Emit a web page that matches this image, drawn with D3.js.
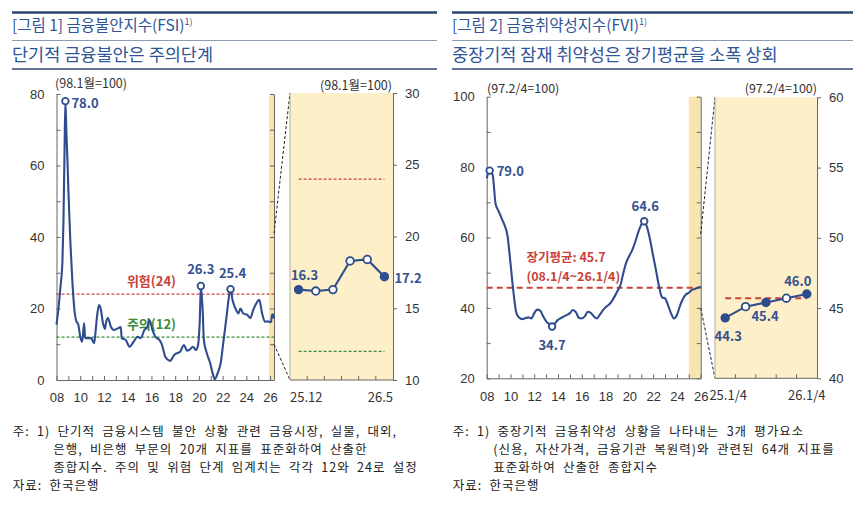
<!DOCTYPE html>
<html>
<head>
<meta charset="utf-8">
<script src="https://cdn.jsdelivr.net/npm/d3@7"></script>
<style>
  body { margin: 0; background: #fff; }
  svg { display: block; font-family: "Noto Sans CJK KR", "Noto Sans", sans-serif; }
  .axis text { font-size: 13px; fill: #333; }
  .axis path, .axis line { stroke: #666; stroke-width: 1; }
  .note { font-size: 12.5px; fill: #222; word-spacing: 3.5px; letter-spacing: 1px; }
  .val { font-size: 13px; font-weight: 700; fill: #34508f; }
  .unit { font-size: 12.5px; fill: #333; }
</style>
</head>
<body>
<div id="chart"></div>
<script>
// ---- FSI (monthly, 98.1 = 100) ----
const fsiMonths = [
  "2008-01","2008-03","2008-05","2008-07","2008-08","2008-09","2008-10","2008-11","2008-12",
  "2009-01","2009-03","2009-05","2009-07","2009-09","2009-11",
  "2010-01","2010-03","2010-05","2010-06","2010-09","2010-12",
  "2011-03","2011-04","2011-06","2011-08","2011-10","2011-12",
  "2012-02","2012-03","2012-05","2012-08","2012-11",
  "2013-02","2013-06","2013-07","2013-11",
  "2014-03","2014-07","2014-11",
  "2015-02","2015-06","2015-09","2015-11",
  "2016-02","2016-05","2016-09","2016-11",
  "2017-01","2017-03","2017-08","2017-12",
  "2018-03","2018-06","2018-10",
  "2019-01","2019-04","2019-07","2019-10","2019-12",
  "2020-02","2020-03","2020-05","2020-06","2020-09","2020-12",
  "2021-04","2021-05","2021-08","2021-11",
  "2022-02","2022-05","2022-07","2022-09","2022-11",
  "2023-02","2023-05","2023-07","2023-10",
  "2024-02","2024-05","2024-08","2024-11",
  "2025-02","2025-05","2025-08","2025-10","2025-12",
  "2026-01","2026-02","2026-03","2026-04","2026-05"
];
const fsiValues = [
  15.5, 20, 26, 33, 44, 62, 78.0, 69, 62,
  53, 39, 28, 20, 16.5, 15.5,
  12.1, 10.7, 15.9, 11.7, 11.7, 11.7,
  10.3, 12.1, 17.7, 21, 19.6, 15.9,
  14.3, 15.9, 17.3, 14.9, 14,
  14.3, 14.8, 11.7, 11.2,
  9.3, 10.7, 12.1,
  11.7, 14, 14.9, 16.8,
  14, 12.1, 11.2, 10.3,
  8.5, 6.5, 5.4, 7,
  7.5, 7.9, 9.8,
  8.2, 8.6, 9.3, 8.4, 9.5,
  17.7, 26.3, 18.6, 11.2, 7.5, 5.1,
  0.9, 0.2, 1.9, 4.7,
  11.2, 17.7, 22.4, 25.4, 22.4,
  20, 18.6, 20, 18.6,
  18.2, 17.3, 19.6, 21.4,
  22.4, 18.6, 16.3, 16.4, 16.3,
  16.2, 16.3, 18.3, 18.4, 17.2
];
const fsiPeakMonths = ["2008-10", "2020-03", "2022-09"];
const fsiZoomMonths = ["2025-12", "2026-01", "2026-02", "2026-03", "2026-04", "2026-05"];
const fsiZoomTicks = ["25.12", "26.5"];
const fsiLevels = [24, 12];
const fsiLevelNames = ["위험(24)", "주의(12)"];

// ---- FVI (quarterly, 97.2/4 = 100) ----
const fviQuarters = [
  "08.1","08.2","08.3","08.4","09.1","09.2","09.3","09.4",
  "10.1","10.2","10.3","10.4","11.1","11.2","11.3","11.4",
  "12.1","12.2","12.3","12.4","13.1","13.2","13.3","13.4",
  "14.1","14.2","14.3","14.4","15.1","15.2","15.3","15.4",
  "16.1","16.2","16.3","16.4","17.1","17.2","17.3","17.4",
  "18.1","18.2","18.3","18.4","19.1","19.2","19.3","19.4",
  "20.1","20.2","20.3","20.4","21.1","21.2","21.3","21.4",
  "22.1","22.2","22.3","22.4","23.1","23.2","23.3","23.4",
  "24.1","24.2","24.3","24.4","25.1","25.2","25.3","25.4","26.1"
];
const fviValues = [
  76.8, 79.0, 77.8, 69.5, 67.5, 65.5, 63.5, 60.5,
  52.7, 44.5, 38.5, 37.2, 36.8, 37.1, 37.3, 37.0,
  38.5, 39.5, 39.2, 37.6, 36.2, 35.4, 34.7, 35.6,
  36.6, 37.1, 37.6, 38.0, 38.5, 39.4, 38.8, 37.2,
  37.0, 37.6, 38.9, 38.6, 37.6, 37.0, 38.0, 39.2,
  40.2, 40.8, 41.8, 43.2, 44.8, 46.5, 50.0, 53.0,
  54.8, 56.5, 58.8, 61.5, 63.6, 64.6, 62.8, 59.2,
  54.8, 50.5, 46.0, 43.0, 42.7, 40.8, 38.5, 37.0,
  38.0, 40.5, 42.5, 43.8, 44.3, 45.1, 45.4, 45.7, 46.0
];
const fviPeakQuarters = ["08.2", "21.2", "13.3"];
const fviZoomQuarters = ["25.1", "25.2", "25.3", "25.4", "26.1"];
const fviZoomTicks = ["25.1/4", "26.1/4"];
const fviLabeledZoom = ["25.1", "25.3", "26.1"];
const fviMean = 45.7;

const W = 860, H = 509;
const blue = "#2f4c8c", red = "#c8423a", green = "#3a8c3a", tan = "#fdf0c9", strip = "#f9e4ae";

const svg = d3.select("#chart").append("svg").attr("width", W).attr("height", H);
svg.append("rect").attr("width", W).attr("height", H).attr("fill", "#fff");

const parseMonth = d3.timeParse("%Y-%m");
const fsi = fsiMonths.map((m, i) => ({ date: parseMonth(m), key: m, value: fsiValues[i] }));
const fsiByKey = new Map(fsi.map(d => [d.key, d]));
const quarterYear = q => 2000 + (+q.split(".")[0]) + (+q.split(".")[1] - 1) / 4;
const fvi = fviQuarters.map((q, i) => ({ t: quarterYear(q), key: q, value: fviValues[i] }));
const fviByKey = new Map(fvi.map(d => [d.key, d]));

// ---------- titles ----------
function header(x0, x1, num, name, tag, sub) {
  svg.append("line").attr("x1", x0).attr("x2", x1).attr("y1", 12.5).attr("y2", 12.5)
    .attr("stroke", "#2b4470").attr("stroke-width", 2.6);
  const t = svg.append("text").attr("x", x0).attr("y", 31)
    .attr("fill", "#2f5597").attr("font-size", 15.5);
  t.append("tspan").text("[그림 " + num + "] " + name + "(" + tag + ")");
  t.append("tspan").attr("font-size", 9).attr("dy", -6).text("1)");
  svg.append("line").attr("x1", x0).attr("x2", x1).attr("y1", 40.5).attr("y2", 40.5)
    .attr("stroke", "#8d9bb3").attr("stroke-width", 1);
  svg.append("text").attr("x", x0).attr("y", 60.5).attr("fill", "#2f5597")
    .attr("font-size", 17.5).text(sub);
  svg.append("line").attr("x1", x0).attr("x2", x1).attr("y1", 69).attr("y2", 69)
    .attr("stroke", "#2b4470").attr("stroke-width", 1.5);
}
header(12, 437, 1, "금융불안지수", "FSI", "단기적 금융불안은 주의단계");
header(452, 853, 2, "금융취약성지수", "FVI", "중장기적 잠재 취약성은 장기평균을 소폭 상회");

// ---------- helpers ----------
function yearAxis(g, scale, years, bottom, fmt) {
  g.append("g").attr("class", "axis").attr("transform", "translate(0," + bottom + ")")
    .call(d3.axisBottom(scale).tickValues(years).tickSize(-4).tickSizeOuter(0)
      .tickPadding(13).tickFormat(fmt));
}
function frameAxes(g, x0, x1, y, step, labelStep) {
  const dom = y.domain();
  const ticks = d3.range(dom[0], dom[1] + 0.01, step);
  g.append("g").attr("class", "axis").attr("transform", "translate(" + x0 + ",0)")
    .call(d3.axisLeft(y).tickValues(ticks).tickSize(-4).tickSizeOuter(0).tickPadding(12)
      .tickFormat(d => d % labelStep === 0 ? d : ""));
  g.append("g").attr("class", "axis").attr("transform", "translate(" + x1 + ",0)")
    .call(d3.axisLeft(y).tickValues(ticks).tickSize(4).tickSizeOuter(0).tickFormat(""));
}
function zoomBox(g, xb, y, step, top, bottom, tickLabels, anchorEdges) {
  const [x0, x1] = xb.range();
  g.append("rect").attr("x", x0).attr("y", top).attr("width", x1 - x0).attr("height", bottom - top)
    .attr("fill", tan);
  g.append("line").attr("x1", x0).attr("x2", x0).attr("y1", top).attr("y2", bottom)
    .attr("stroke", "#999").attr("stroke-width", 0.8);
  const dom = y.domain();
  g.append("g").attr("class", "axis").attr("transform", "translate(" + x1 + ",0)")
    .call(d3.axisRight(y).tickValues(d3.range(dom[0], dom[1] + 0.01, step))
      .tickSize(4).tickSizeOuter(0).tickPadding(8));
  const ax = g.append("g").attr("class", "axis");
  ax.append("line").attr("x1", x0).attr("x2", x1).attr("y1", bottom).attr("y2", bottom);
  xb.domain().slice(1).forEach(k => {
    ax.append("line").attr("x1", xb(k)).attr("x2", xb(k)).attr("y1", bottom).attr("y2", bottom - 4);
  });
  const ends = [xb.domain()[0], xb.domain()[xb.domain().length - 1]];
  tickLabels.forEach((lab, i) => {
    const k = ends[i];
    let x = xb(k) + xb.bandwidth() / 2, anchor = "middle";
    if (anchorEdges) { x = i === 0 ? x0 : x1; anchor = i === 0 ? "start" : "end"; }
    else if (i === 0) { x += 3; }
    ax.append("text").attr("x", x).attr("y", bottom + 22).attr("text-anchor", anchor).text(lab);
  });
}
function connectors(g, mx, my, v0, v1, ix, iTop, iBot) {
  [[my(v0), iTop], [my(v1), iBot]].forEach(p => {
    g.append("line").attr("x1", mx).attr("y1", p[0]).attr("x2", ix).attr("y2", p[1])
      .attr("stroke", "#222").attr("stroke-width", 1).attr("stroke-dasharray", "3,2");
  });
}
function marker(g, x, y, filled, r) {
  g.append("circle").attr("cx", x).attr("cy", y).attr("r", r)
    .attr("fill", filled ? blue : "#fff").attr("stroke", blue).attr("stroke-width", 1.8);
}

// ---------- Figure 1: FSI ----------
const g1 = svg.append("g");
const L = { x0: 56.5, x1: 274, top: 94, bottom: 380 };
const x1s = d3.scaleTime().domain([parseMonth("2008-01"), parseMonth("2026-05")]).range([L.x0, L.x1]);
const y1s = d3.scaleLinear().domain([0, 80]).range([L.bottom, L.top]);

g1.append("rect").attr("x", x1s(parseMonth(fsiZoomMonths[0]))).attr("y", L.top)
  .attr("width", L.x1 - x1s(parseMonth(fsiZoomMonths[0]))).attr("height", L.bottom - L.top)
  .attr("fill", strip);

const fsiYears = d3.range(2008, 2027).map(y => new Date(y, 0, 1));
yearAxis(g1, x1s, fsiYears, L.bottom,
  d => d.getFullYear() % 2 === 0 ? d3.timeFormat("%y")(d) : "");
frameAxes(g1, L.x0, L.x1, y1s, 10, 20);

const levelColors = [red, green];
fsiLevels.forEach((v, i) => {
  g1.append("line").attr("x1", L.x0).attr("x2", L.x1).attr("y1", y1s(v)).attr("y2", y1s(v))
    .attr("stroke", levelColors[i]).attr("stroke-width", 1.3).attr("stroke-dasharray", "3,2");
  g1.append("text").attr("x", x1s(parseMonth("2016-01"))).attr("y", y1s(v) - 8)
    .attr("text-anchor", "middle").attr("font-size", 13).attr("font-weight", 700)
    .attr("fill", levelColors[i]).text(fsiLevelNames[i]);
});

const line1 = d3.line().x(d => x1s(d.date)).y(d => y1s(d.value)).curve(d3.curveMonotoneX);
g1.append("path").datum(fsi).attr("d", line1).attr("fill", "none")
  .attr("stroke", blue).attr("stroke-width", 2.1).attr("stroke-linejoin", "round");

const peakOffsets1 = [[6, 6.5, "start"], [0, -12, "middle"], [2, -11, "middle"]];
fsiPeakMonths.forEach((k, i) => {
  const d = fsiByKey.get(k), px = x1s(d.date), py = y1s(d.value);
  marker(g1, px, py, false, 3.3);
  g1.append("text").attr("class", "val").attr("x", px + peakOffsets1[i][0])
    .attr("y", py + peakOffsets1[i][1]).attr("text-anchor", peakOffsets1[i][2])
    .text(d.value.toFixed(1));
});
g1.append("text").attr("class", "unit").attr("x", 55).attr("y", 88).text("(98.1월=100)");

// inset
const LI = { top: 93, bottom: 380 };
const xb1 = d3.scaleBand().domain(fsiZoomMonths).range([290, 393]);
const yb1 = d3.scaleLinear().domain([10, 30]).range([LI.bottom, LI.top]);
connectors(g1, L.x1, y1s, 41, 10, 290, LI.top, LI.bottom);
zoomBox(g1, xb1, yb1, 5, LI.top, LI.bottom, fsiZoomTicks, true);
const cx1 = k => xb1(k) + xb1.bandwidth() / 2;
const zf = fsiZoomMonths.map(k => fsiByKey.get(k));
fsiLevels.forEach((v, i) => {
  g1.append("line").attr("x1", cx1(fsiZoomMonths[0])).attr("x2", cx1(fsiZoomMonths[5]))
    .attr("y1", yb1(v)).attr("y2", yb1(v))
    .attr("stroke", levelColors[i]).attr("stroke-width", 1.3).attr("stroke-dasharray", "3,2");
});
g1.append("path").datum(zf)
  .attr("d", d3.line().x(d => cx1(d.key)).y(d => yb1(d.value)))
  .attr("fill", "none").attr("stroke", blue).attr("stroke-width", 2.1);
zf.forEach((d, i) => marker(g1, cx1(d.key), yb1(d.value), i === 0 || i === zf.length - 1, 3.8));
g1.append("text").attr("class", "val").attr("x", cx1(zf[0].key) + 6).attr("y", yb1(zf[0].value) - 10)
  .attr("text-anchor", "middle").text(zf[0].value.toFixed(1));
g1.append("text").attr("class", "val").attr("x", cx1(zf[5].key) + 10).attr("y", yb1(zf[5].value) + 6)
  .text(zf[5].value.toFixed(1));
g1.append("text").attr("class", "unit").attr("x", 392).attr("y", 89.5)
  .attr("text-anchor", "end").text("(98.1월=100)");

// ---------- Figure 2: FVI ----------
const g2 = svg.append("g");
const R = { x0: 486.7, x1: 700.7, top: 96.7, bottom: 378.3 };
const x2s = d3.scaleLinear().domain([2008, 2026]).range([R.x0, R.x1]);
const y2s = d3.scaleLinear().domain([20, 100]).range([R.bottom, R.top]);

g2.append("rect").attr("x", x2s(quarterYear(fviZoomQuarters[0]))).attr("y", R.top)
  .attr("width", R.x1 - x2s(quarterYear(fviZoomQuarters[0]))).attr("height", R.bottom - R.top)
  .attr("fill", strip);
yearAxis(g2, x2s, d3.range(2008, 2027), R.bottom,
  d => d % 2 === 0 ? String(d).slice(2) : "");
frameAxes(g2, R.x0, R.x1, y2s, 10, 20);

g2.append("line").attr("x1", R.x0).attr("x2", R.x1).attr("y1", y2s(fviMean)).attr("y2", y2s(fviMean))
  .attr("stroke", red).attr("stroke-width", 2).attr("stroke-dasharray", "6,4");
g2.append("text").attr("x", x2s(2011.35)).attr("y", y2s(fviMean) - 25.5)
  .attr("font-size", 12.5).attr("font-weight", 700).attr("fill", red).text("장기평균: " + fviMean);
g2.append("text").attr("x", x2s(2011.35)).attr("y", y2s(fviMean) - 7)
  .attr("font-size", 12.5).attr("font-weight", 700).attr("fill", red).text("(08.1/4~26.1/4)");

const line2 = d3.line().x(d => x2s(d.t)).y(d => y2s(d.value)).curve(d3.curveMonotoneX);
g2.append("path").datum(fvi).attr("d", line2).attr("fill", "none")
  .attr("stroke", blue).attr("stroke-width", 2.1);

const peakOffsets2 = [[7, 5, "start"], [1, -10, "middle"], [0, 23, "middle"]];
fviPeakQuarters.forEach((k, i) => {
  const d = fviByKey.get(k), px = x2s(d.t), py = y2s(d.value);
  marker(g2, px, py, false, 3.3);
  g2.append("text").attr("class", "val").attr("x", px + peakOffsets2[i][0])
    .attr("y", py + peakOffsets2[i][1]).attr("text-anchor", peakOffsets2[i][2])
    .text(d.value.toFixed(1));
});
g2.append("text").attr("class", "unit").attr("x", 487).attr("y", 93).text("(97.2/4=100)");

// inset
const RI = { top: 97.3, bottom: 378.3 };
const xb2 = d3.scaleBand().domain(fviZoomQuarters).range([715, 817]);
const yb2 = d3.scaleLinear().domain([40, 60]).range([RI.bottom, RI.top]);
connectors(g2, R.x1, y2s, 61, 40, 715, RI.top, RI.bottom);
zoomBox(g2, xb2, yb2, 5, RI.top, RI.bottom, fviZoomTicks, false);
const cx2 = k => xb2(k) + xb2.bandwidth() / 2;
const zv = fviZoomQuarters.map(k => fviByKey.get(k));
g2.append("line").attr("x1", cx2(fviZoomQuarters[0])).attr("x2", cx2(fviZoomQuarters[4]))
  .attr("y1", yb2(fviMean)).attr("y2", yb2(fviMean))
  .attr("stroke", red).attr("stroke-width", 2).attr("stroke-dasharray", "6,4");
g2.append("path").datum(zv)
  .attr("d", d3.line().x(d => cx2(d.key)).y(d => yb2(d.value)))
  .attr("fill", "none").attr("stroke", blue).attr("stroke-width", 2.1);
zv.forEach(d => marker(g2, cx2(d.key), yb2(d.value), fviLabeledZoom.includes(d.key), 3.8));
const zoomOffsets2 = [[3, 23], [-1, 19], [-9, -8]];
fviLabeledZoom.forEach((k, i) => {
  const d = fviByKey.get(k);
  g2.append("text").attr("class", "val").attr("text-anchor", "middle")
    .attr("x", cx2(k) + zoomOffsets2[i][0]).attr("y", yb2(d.value) + zoomOffsets2[i][1])
    .text(d.value.toFixed(1));
});
g2.append("text").attr("class", "unit").attr("x", 817).attr("y", 93)
  .attr("text-anchor", "end").text("(97.2/4=100)");

// ---------- notes ----------
const notes1 = [
  "주: 1) 단기적 금융시스템 불안 상황 관련 금융시장, 실물, 대외,",
  "은행, 비은행 부문의 20개 지표를 표준화하여 산출한",
  "종합지수. 주의 및 위험 단계 임계치는 각각 12와 24로 설정",
  "자료: 한국은행"
];
const notes2 = [
  "주: 1) 중장기적 금융취약성 상황을 나타내는 3개 평가요소",
  "(신용, 자산가격, 금융기관 복원력)와 관련된 64개 지표를",
  "표준화하여 산출한 종합지수",
  "자료: 한국은행"
];
function notes(lines, x0) {
  lines.forEach((s, i) => {
    const indent = (i === 1 || i === 2) ? 40.6 : 0;
    svg.append("text").attr("class", "note").attr("x", x0 + indent).attr("y", 435.5 + i * 18.3)
      .text(s);
  });
}
notes(notes1, 12.7);
notes(notes2, 452.7);
</script>
</body>
</html>
